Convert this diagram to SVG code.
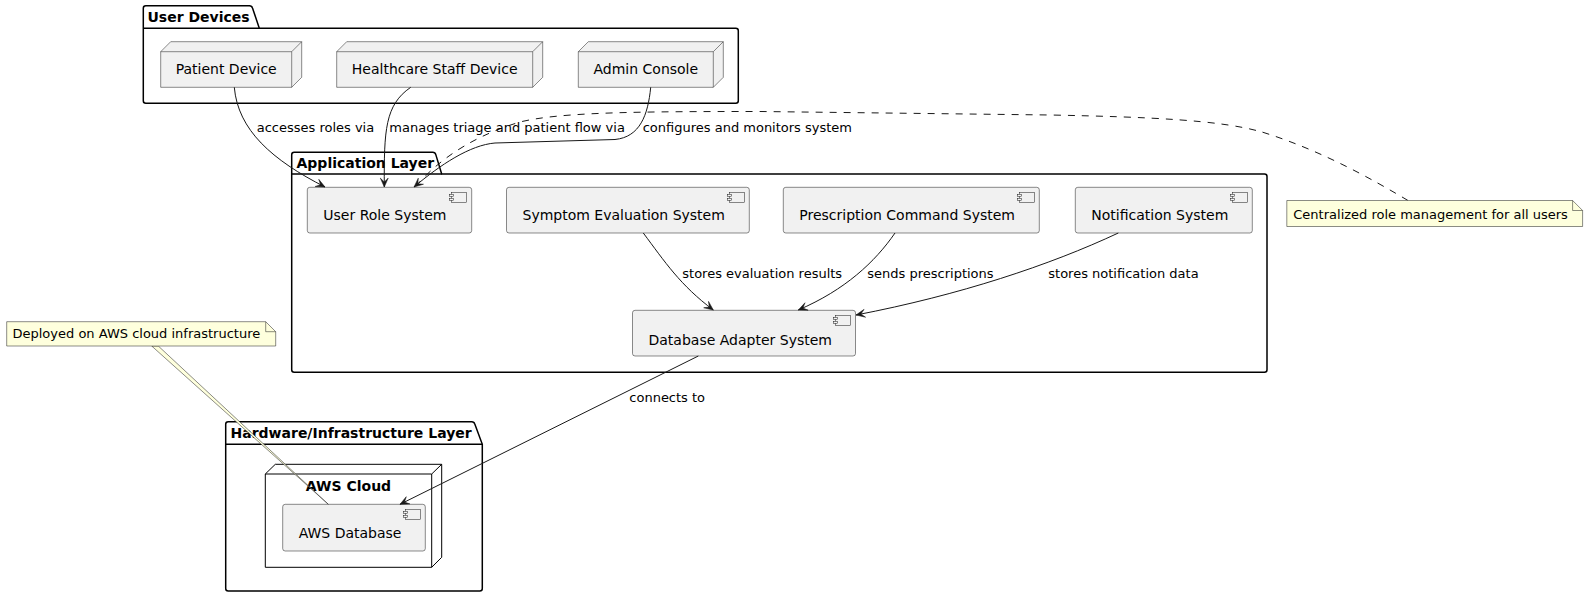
<svg xmlns="http://www.w3.org/2000/svg" width="1588" height="597" viewBox="0 0 1588 597">
<style>
text{font-family:"DejaVu Sans","Noto Sans",sans-serif;fill:#000}
.pk{fill:none;stroke:#000;stroke-width:1.5}
.pt{font-size:14px;font-weight:bold}
.nd{fill:#F1F1F1;stroke:#181818;stroke-width:0.5}
.ndl{stroke:#181818;stroke-width:0.5;fill:none}
.cp{fill:#F1F1F1;stroke:#181818;stroke-width:0.5}
.lbl{font-size:14px}
.el{font-size:13px}
.e{fill:none;stroke:#181818;stroke-width:1}
.nt{fill:#FEFFDD;stroke:#181818;stroke-width:0.5}
</style>
<defs>
<marker id="ah" viewBox="-10 -5 11 10" refX="0" refY="0" markerWidth="11" markerHeight="10" orient="auto" markerUnits="userSpaceOnUse">
<path d="M0,0 L-9,-4 L-5,0 L-9,4 Z" fill="#181818" stroke="#181818" stroke-width="0.5"/>
</marker>
<g id="cicon">
<rect x="0" y="0" width="15" height="10" fill="#F1F1F1" stroke="#181818" stroke-width="0.5"/>
<rect x="-2" y="2" width="4" height="2" fill="#F1F1F1" stroke="#181818" stroke-width="0.5"/>
<rect x="-2" y="6" width="4" height="2" fill="#F1F1F1" stroke="#181818" stroke-width="0.5"/>
</g>
</defs>
<rect width="1588" height="597" fill="#FFFFFF"/>

<g id="pkg-user-devices">
<path class="pk" d="M145.8,5.7 L249.5,5.7 Q251.8,5.7 252.5,8 L259.3,28.3 L735.8,28.3 Q738.3,28.3 738.3,30.8 L738.3,100.8 Q738.3,103.3 735.8,103.3 L145.8,103.3 Q143.3,103.3 143.3,100.8 L143.3,8.2 Q143.3,5.7 145.8,5.7 Z"/>
<line class="pk" x1="143.3" y1="28.3" x2="259.3" y2="28.3"/>
<text class="pt" x="147.5" y="22">User Devices</text>
</g>

<g id="pkg-application-layer">
<path class="pk" d="M294.2,152.3 L432.8,152.3 Q435.1,152.3 435.8,154.6 L441.7,174 L1264.5,174 Q1267,174 1267,176.5 L1267,369.8 Q1267,372.3 1264.5,372.3 L294.2,372.3 Q291.7,372.3 291.7,369.8 L291.7,154.8 Q291.7,152.3 294.2,152.3 Z"/>
<line class="pk" x1="291.7" y1="174" x2="441.7" y2="174"/>
<text class="pt" x="296.5" y="167.5">Application Layer</text>
</g>

<g id="pkg-hardware-layer">
<path class="pk" d="M228.2,421.7 L471.8,421.7 Q474.1,421.7 474.8,424 L482.3,444.3 L482.3,588.5 Q482.3,591 479.8,591 L228.2,591 Q225.7,591 225.7,588.5 L225.7,424.2 Q225.7,421.7 228.2,421.7 Z"/>
<line class="pk" x1="225.7" y1="444.3" x2="482.3" y2="444.3"/>
<text class="pt" x="230.5" y="437.5">Hardware/Infrastructure Layer</text>
</g>

<g id="node-patient-device">
<polygon class="nd" points="160.7,51.7 170.7,41.7 301.7,41.7 301.7,77.3 291.7,87.3 160.7,87.3"/>
<path class="ndl" d="M160.7,51.7 L291.7,51.7 L301.7,41.7 M291.7,51.7 L291.7,87.3"/>
<text class="lbl" x="226.2" y="74" text-anchor="middle">Patient Device</text>
</g>

<g id="node-healthcare-staff-device">
<polygon class="nd" points="336.7,51.7 346.7,41.7 542.7,41.7 542.7,77.3 532.7,87.3 336.7,87.3"/>
<path class="ndl" d="M336.7,51.7 L532.7,51.7 L542.7,41.7 M532.7,51.7 L532.7,87.3"/>
<text class="lbl" x="434.7" y="74" text-anchor="middle">Healthcare Staff Device</text>
</g>

<g id="node-admin-console">
<polygon class="nd" points="578.3,51.7 588.3,41.7 723.3,41.7 723.3,77.3 713.3,87.3 578.3,87.3"/>
<path class="ndl" d="M578.3,51.7 L713.3,51.7 L723.3,41.7 M713.3,51.7 L713.3,87.3"/>
<text class="lbl" x="645.8" y="74" text-anchor="middle">Admin Console</text>
</g>

<g id="comp-user-role-system">
<rect class="cp" x="307.3" y="187.3" width="164.4" height="45.7" rx="2.5"/>
<use href="#cicon" x="451.7" y="192.3"/>
<text class="lbl" x="323.3" y="220">User Role System</text>
</g>

<g id="comp-symptom-evaluation-system">
<rect class="cp" x="506.5" y="187.3" width="242.8" height="45.7" rx="2.5"/>
<use href="#cicon" x="729.3" y="192.3"/>
<text class="lbl" x="522.5" y="220">Symptom Evaluation System</text>
</g>

<g id="comp-prescription-command-system">
<rect class="cp" x="783.3" y="187.3" width="256" height="45.7" rx="2.5"/>
<use href="#cicon" x="1019.3" y="192.3"/>
<text class="lbl" x="799.3" y="220">Prescription Command System</text>
</g>

<g id="comp-notification-system">
<rect class="cp" x="1075.3" y="187.3" width="177" height="45.7" rx="2.5"/>
<use href="#cicon" x="1232.3" y="192.3"/>
<text class="lbl" x="1091.3" y="220">Notification System</text>
</g>

<g id="comp-database-adapter-system">
<rect class="cp" x="632.5" y="310.3" width="223" height="45.7" rx="2.5"/>
<use href="#cicon" x="835.5" y="315.3"/>
<text class="lbl" x="648.5" y="344.5">Database Adapter System</text>
</g>

<g id="node-aws-cloud">
<polygon points="265.3,474 275.3,464.3 441.7,464.3 441.7,557.3 431.7,567.3 265.3,567.3" fill="#FFFFFF" stroke="#000" stroke-width="1"/>
<path d="M265.3,474 L431.7,474 L441.7,464.3 M431.7,474 L431.7,567.3" fill="none" stroke="#000" stroke-width="1"/>
<text class="pt" x="348.5" y="491" text-anchor="middle">AWS Cloud</text>
</g>

<g id="comp-aws-database">
<rect class="cp" x="282.7" y="504.3" width="142.6" height="46.7" rx="2.5"/>
<use href="#cicon" x="405.3" y="509.3"/>
<text class="lbl" x="298.7" y="538">AWS Database</text>
</g>

<g id="connectors">
<path class="e" marker-end="url(#ah)" d="M234.3,87.3 C238,130 272,160 325,187"/>
<path class="e" marker-end="url(#ah)" d="M410.7,87.3 C385,105 384,130 384.3,187"/>
<path class="e" marker-end="url(#ah)" d="M650.7,87.3 C648,115 640,137 615,139.5 L495,143 C470,145 440,165 414,187"/>
<path class="e" marker-end="url(#ah)" d="M643.3,233 C665,262 680,285 713.3,310"/>
<path class="e" marker-end="url(#ah)" d="M895,233 C875,262 845,290 798.3,310"/>
<path class="e" marker-end="url(#ah)" d="M1118.3,233 C1050,265 960,295 856,315"/>
<path class="e" marker-end="url(#ah)" d="M698.3,356 L400,504.3"/>
<path class="e" stroke-dasharray="7,7" d="M416,186 C430,170 460,140 520,122 C560,112 640,111.5 760,111.5 L1050,115 C1150,117 1220,120 1262,132 C1320,150 1370,178 1408,200.5"/>
<text class="el" x="256.7" y="132">accesses roles via</text>
<text class="el" x="389.3" y="132">manages triage and patient flow via</text>
<text class="el" x="642.7" y="132">configures and monitors system</text>
<text class="el" x="682.3" y="277.5">stores evaluation results</text>
<text class="el" x="867.3" y="277.5">sends prescriptions</text>
<text class="el" x="1048.3" y="277.5">stores notification data</text>
<text class="el" x="629.3" y="402">connects to</text>
</g>

<g id="note-aws">
<polygon class="nt" points="151.7,346 158.3,346 328.3,504.3"/>
<polygon class="nt" points="6.7,321.7 265.7,321.7 275.7,331.7 275.7,346 6.7,346"/>
<path class="ndl" d="M265.7,321.7 L265.7,331.7 L275.7,331.7"/>
<text class="el" x="12.5" y="338">Deployed on AWS cloud infrastructure</text>
</g>

<g id="note-role">
<polygon class="nt" points="1286.8,200.5 1572.6,200.5 1582.6,210.5 1582.6,226.5 1286.8,226.5"/>
<path class="ndl" d="M1572.6,200.5 L1572.6,210.5 L1582.6,210.5"/>
<text class="el" x="1293.3" y="218.5">Centralized role management for all users</text>
</g>
</svg>
